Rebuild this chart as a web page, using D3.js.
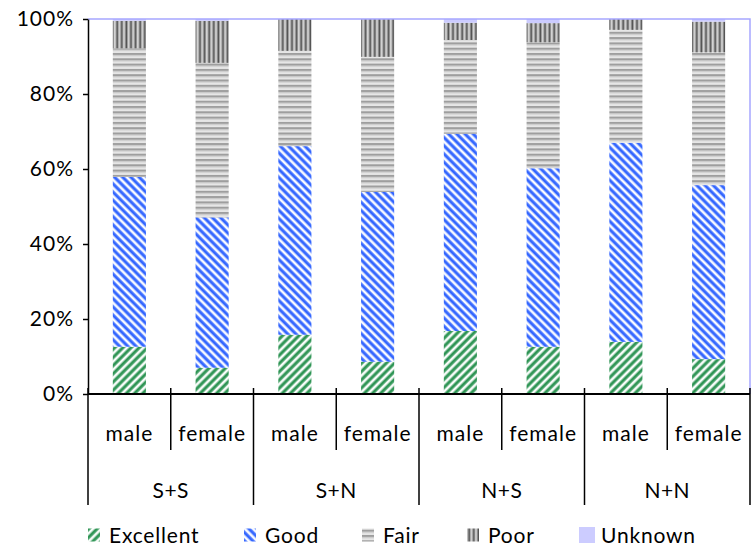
<!DOCTYPE html>
<html>
<head>
<meta charset="utf-8">
<script src="https://cdn.jsdelivr.net/npm/d3@7"></script>
<style>
  body { margin: 0; background: #fff; }
  svg text { font-family: Lato, "Open Sans", sans-serif; fill: #000; }
</style>
</head>
<body>
<div id="chart"></div>
<script>
// chart data
const groups = ["S+S", "S+N", "N+S", "N+N"];
const sexes = ["male", "female"];
const keys = ["Excellent", "Good", "Fair", "Poor", "Unknown"];
const excellent = [12.6, 7.0, 15.8, 8.6, 16.8, 12.6, 13.9, 9.3];
const good = [45.3, 40.1, 50.3, 45.3, 52.6, 47.6, 53.1, 46.4];
const fair = [34.3, 41.2, 25.4, 36.0, 25.0, 33.6, 30.1, 35.4];
const poor = [7.3, 11.2, 8.5, 10.1, 4.6, 5.1, 2.9, 8.2];
const unknown = [0.5, 0.5, 0, 0, 1.0, 1.1, 0, 0.7];
const yTicks = [0, 20, 40, 60, 80, 100];

const rows = [];
groups.forEach((g, gi) => {
    sexes.forEach((s, si) => {
        const i = gi * sexes.length + si;
        rows.push({
            id: g + "|" + s, group: g, sex: s,
            Excellent: excellent[i], Good: good[i], Fair: fair[i],
            Poor: poor[i], Unknown: unknown[i]
        });
    });
});

const W = 753, H = 550;
const plotLeft = 88, plotRight = 750, plotTop = 19, plotBottom = 394;

const svg = d3.select("#chart").append("svg")
    .attr("width", W).attr("height", H);

// fill patterns
const defs = svg.append("defs");

function diag(id, color, angle) {
    const p = defs.append("pattern")
        .attr("id", id)
        .attr("patternUnits", "userSpaceOnUse")
        .attr("width", 5.8).attr("height", 5.8)
        .attr("patternTransform", "rotate(" + angle + ")");
    p.append("rect").attr("width", 5.8).attr("height", 5.8).attr("fill", "#fff");
    p.append("rect").attr("x", 0.2).attr("width", 3.8).attr("height", 5.8)
        .attr("fill", color).attr("opacity", 0.45);
    p.append("rect").attr("x", 0.8).attr("width", 2.6).attr("height", 5.8).attr("fill", color);
}
diag("pat-exc", "#2f9555", 45);
diag("pat-good", "#3366ff", -45);

const pf = defs.append("pattern").attr("id", "pat-fair")
    .attr("patternUnits", "userSpaceOnUse").attr("width", 6).attr("height", 5.3);
pf.append("rect").attr("width", 6).attr("height", 5.3).attr("fill", "#e6e6e6");
pf.append("rect").attr("y", 0).attr("width", 6).attr("height", 2).attr("fill", "#9e9e9e");
pf.append("rect").attr("y", 2).attr("width", 6).attr("height", 1).attr("fill", "#c2c2c2");

const pp = defs.append("pattern").attr("id", "pat-poor")
    .attr("patternUnits", "userSpaceOnUse").attr("width", 4.6).attr("height", 6);
pp.append("rect").attr("width", 4.6).attr("height", 6).attr("fill", "#d6d6d6");
pp.append("rect").attr("x", 1.2).attr("width", 2).attr("height", 6).attr("fill", "#555");
pp.append("rect").attr("x", 0.6).attr("width", 0.6).attr("height", 6).attr("fill", "#9a9a9a");

const fills = {
    Excellent: "url(#pat-exc)", Good: "url(#pat-good)", Fair: "url(#pat-fair)",
    Poor: "url(#pat-poor)", Unknown: "#ccccff"
};

const x = d3.scaleBand().domain(rows.map(d => d.id))
    .range([plotLeft, plotRight]).paddingInner(0.6).paddingOuter(0.3);
const y = d3.scaleLinear().domain([0, 100]).range([plotBottom, plotTop]);

const stacked = d3.stack().keys(keys)(rows);

svg.append("g").selectAll("g")
    .data(stacked)
    .join("g")
    .attr("fill", d => fills[d.key])
    .selectAll("rect")
    .data(d => d)
    .join("rect")
    .attr("x", d => x(d.data.id))
    .attr("width", x.bandwidth())
    .attr("y", d => y(d[1]))
    .attr("height", d => y(d[0]) - y(d[1]));

// plot border (top and right)
svg.append("path")
    .attr("d", `M${plotLeft},${plotTop}H${plotRight}V${plotBottom}`)
    .attr("fill", "none").attr("stroke", "#a6a6ff").attr("stroke-width", 1.5);

// y axis
const yAxis = svg.append("g")
    .attr("transform", `translate(${plotLeft},0)`)
    .call(d3.axisLeft(y).tickValues(yTicks).tickFormat(d => d + "%")
        .tickSizeInner(5).tickSizeOuter(0).tickPadding(9));
yAxis.select(".domain").attr("stroke", "#000").attr("stroke-width", 1.5);
yAxis.selectAll(".tick line").attr("stroke", "#000").attr("stroke-width", 1.5);
yAxis.selectAll(".tick text")
    .style("font-size", "21px").style("letter-spacing", "1px").attr("fill", "#000");

// category axis
const step = x.step();
svg.append("line")
    .attr("x1", plotLeft).attr("x2", plotRight).attr("y1", plotBottom).attr("y2", plotBottom)
    .attr("stroke", "#000").attr("stroke-width", 2);

const cat = svg.append("g");
d3.range(rows.length + 1).forEach(i => {
    const xi = plotLeft + i * step;
    const isGroup = i % sexes.length === 0;
    cat.append("line")
        .attr("x1", xi).attr("x2", xi)
        .attr("y1", plotBottom - 6).attr("y2", isGroup ? 505 : 450)
        .attr("stroke", "#000").attr("stroke-width", 1.5);
});

cat.selectAll("text.sex")
    .data(rows)
    .join("text")
    .attr("class", "sex")
    .attr("x", d => x(d.id) + x.bandwidth() / 2)
    .attr("y", 441)
    .attr("text-anchor", "middle")
    .style("font-size", "21px")
    .style("letter-spacing", "1px")
    .text(d => d.sex);

cat.selectAll("text.grp")
    .data(groups)
    .join("text")
    .attr("class", "grp")
    .attr("x", (d, i) => plotLeft + (i + 0.5) * step * sexes.length)
    .attr("y", 498)
    .attr("text-anchor", "middle")
    .style("font-size", "21px")
    .style("letter-spacing", "0.5px")
    .text(d => d);

// legend
const legendX = [88, 244, 362, 467, 579];
const lg = svg.append("g").selectAll("g")
    .data(keys)
    .join("g")
    .attr("transform", (d, i) => `translate(${legendX[i]},535)`);
lg.append("rect")
    .attr("x", 0).attr("y", d => d === "Unknown" ? -8 : -6.5)
    .attr("width", d => d === "Unknown" ? 16 : 12)
    .attr("height", d => d === "Unknown" ? 16 : 13)
    .attr("fill", d => fills[d]);
lg.append("text")
    .attr("x", d => d === "Unknown" ? 22 : 21)
    .attr("y", 8)
    .style("font-size", "21px")
    .style("letter-spacing", "0.8px")
    .text(d => d);
</script>
</body>
</html>
